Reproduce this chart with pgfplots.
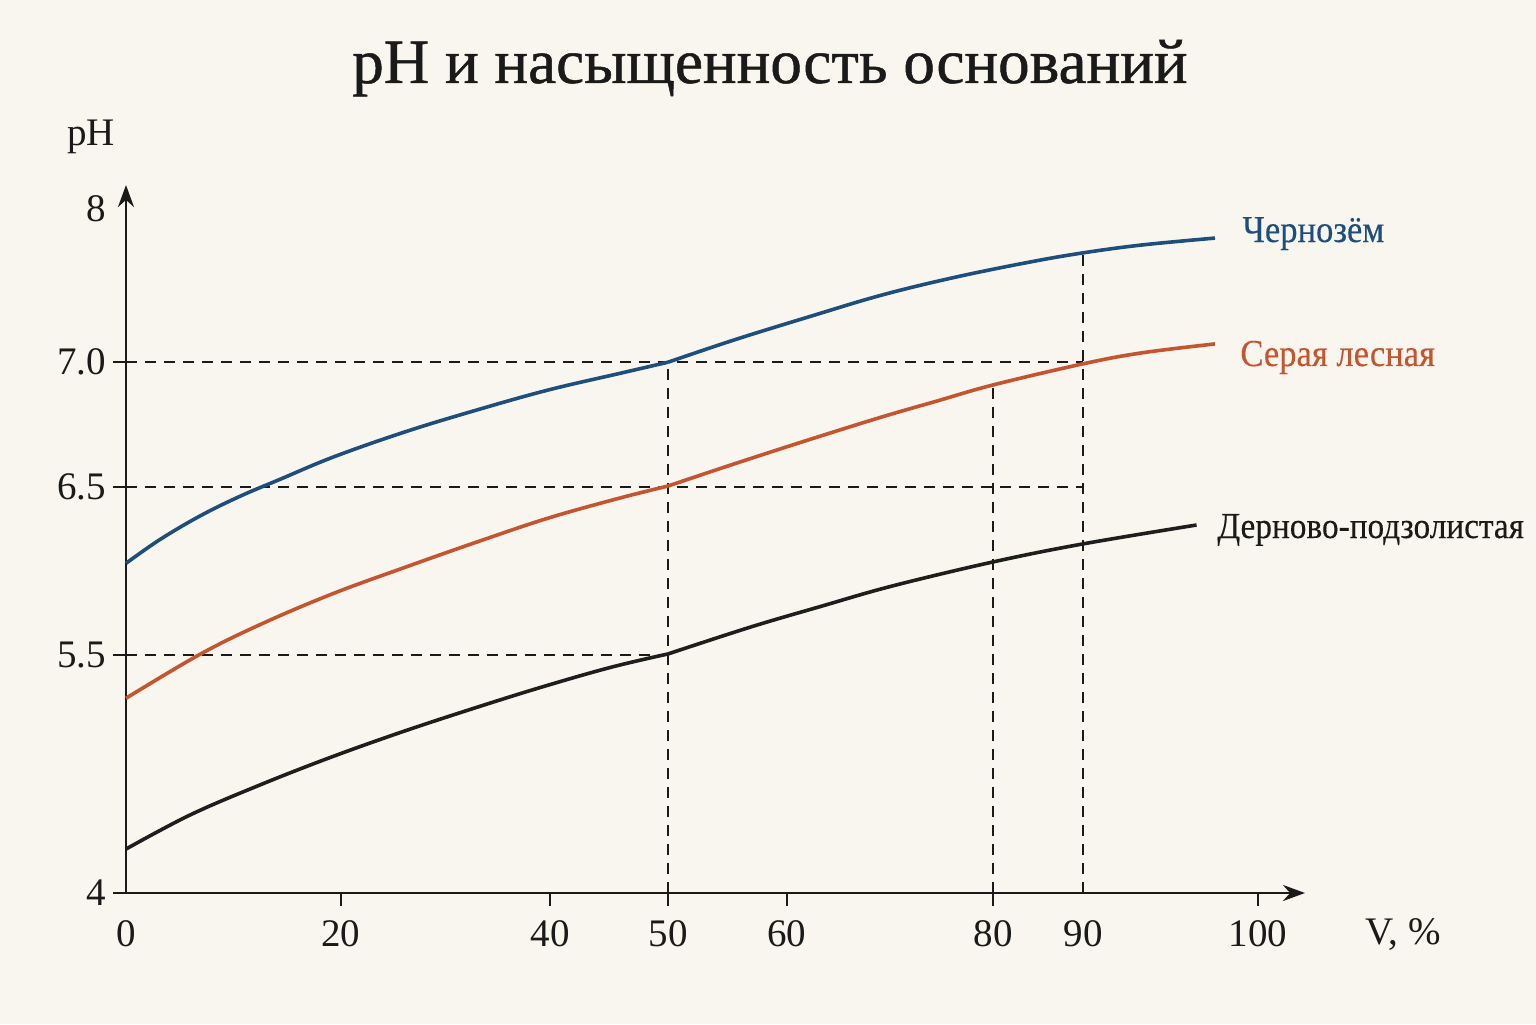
\documentclass[border=0pt]{standalone}
\usepackage{fontspec}
\setmainfont{Liberation Serif}
\newfontfamily\titlefont[FakeBold=0.8]{Liberation Serif}
\newfontfamily\labelfont[FakeStretch=0.91,FakeBold=0.3]{Liberation Serif}
\usepackage{pgfplots}
\pgfplotsset{compat=1.18}
\usetikzlibrary{arrows.meta}
\definecolor{bg}{HTML}{F9F6EF}
\definecolor{cblue}{HTML}{1D4E7C}
\definecolor{cred}{HTML}{C4552F}
\definecolor{cblack}{HTML}{1E1E1E}
\definecolor{txt}{HTML}{1A1A1A}
% x: position along the drawn V axis (0 = origin, 100 = tick "100")
% y: position along the drawn pH axis (4 = origin, 8 = tick "8")
\pgfplotstableread{
x y
0.00 5.928
3.00 6.067
6.54 6.205
10.07 6.320
13.60 6.419
18.37 6.551
24.71 6.698
31.01 6.825
37.33 6.942
43.64 7.039
47.88 7.104
}\chernA
\pgfplotstableread{
x y
47.88 7.104
53.71 7.234
60.25 7.368
66.78 7.497
73.32 7.602
79.86 7.690
84.50 7.743
89.66 7.789
96.20 7.830
}\chernB
\pgfplotstableread{
x y
0.00 5.139
6.54 5.396
12.09 5.577
18.37 5.753
24.71 5.906
31.01 6.053
37.33 6.193
43.64 6.310
47.88 6.380
}\grayA
\pgfplotstableread{
x y
47.88 6.380
53.71 6.509
60.25 6.649
66.78 6.784
71.64 6.877
76.59 6.971
84.50 7.094
89.66 7.158
96.20 7.211
}\grayB
\pgfplotstableread{
x y
0.00 4.257
5.65 4.456
11.84 4.632
18.02 4.792
24.29 4.940
30.48 5.075
36.66 5.203
42.84 5.320
47.88 5.398
}\sodA
\pgfplotstableread{
x y
47.88 5.398
55.21 5.556
61.48 5.678
67.67 5.795
76.59 5.936
84.50 6.041
94.57 6.152
}\sodB
\begin{document}
\begin{tikzpicture}
\fill[bg] (0,0) rectangle (768pt,512pt);
\useasboundingbox (0,0) rectangle (768pt,512pt);
\node[anchor=base, inner sep=0, text=txt, font=\titlefont\fontsize{31.5}{36}\selectfont] at (385pt,470.5pt) {pH и насыщенность оснований};
\begin{axis}[
  at={(63pt,65.5pt)}, anchor=south west,
  x=5.66pt, y=85.5pt,
  xmin=0, xmax=104.15, ymin=4, ymax=8.14,
  enlargelimits=false, clip=false,
  axis lines=left,
  axis line style={line width=1.25pt, draw=txt, -{Stealth[length=11pt,width=8pt]}},
  tick align=outside, major tick length=6.5pt,
  every tick/.style={line width=1.1pt, draw=txt},
  xtick={18.99,37.46,47.88,58.39,76.59,100},
  xticklabels={20,40,50,60,80,100},
  extra x ticks={0,84.54}, extra x tick labels={0,90},
  extra x tick style={major tick style={draw=none}},
  ytick={4,5.392,6.374,7.105}, yticklabels={4,5.5,6.5,7.0},
  extra y ticks={8}, extra y tick labels={8},
  extra y tick style={major tick style={draw=none}},
  tick label style={font=\fontsize{19.5}{22}\selectfont, text=txt},
  xticklabel style={yshift=-3.5pt},
  guide/.style={line width=1pt, draw=txt, dash pattern=on 5.5pt off 4pt},
  curve/.style={line width=1.8pt, smooth, tension=0.6},
]
\addplot[guide] coordinates {(0,7.105) (84.54,7.105)};
\addplot[guide] coordinates {(0,6.374) (84.54,6.374)};
\addplot[guide] coordinates {(0,5.392) (47.88,5.392)};
\addplot[guide] coordinates {(47.88,4) (47.88,7.105)};
\addplot[guide] coordinates {(76.59,4) (76.59,6.971)};
\addplot[guide] coordinates {(84.54,4) (84.54,7.743)};
\addplot[cblue, curve] table {\chernA};
\addplot[cblue, curve] table {\chernB};
\addplot[cred, curve] table {\grayA};
\addplot[cred, curve] table {\grayB};
\addplot[cblack, curve] table {\sodA};
\addplot[cblack, curve] table {\sodB};
\node[anchor=base west, inner sep=0, text=cblue, font=\labelfont\fontsize{19}{22}\selectfont] at (axis cs:98.59,7.807) {Чернозём};
\node[anchor=base west, inner sep=0, text=cred, font=\labelfont\fontsize{19}{22}\selectfont] at (axis cs:98.41,7.082) {Серая лесная};
\node[anchor=base west, inner sep=0, text=txt, font=\labelfont\fontsize{18.3}{22}\selectfont] at (axis cs:96.38,6.076) {Дерново-подзолистая};
\node[anchor=base west, inner sep=0, text=txt, font=\fontsize{19.5}{22}\selectfont] at (axis cs:109.45,3.696) {V, \%};
\node[anchor=base west, inner sep=0, text=txt, font=\fontsize{19.5}{22}\selectfont] at (axis cs:-5.21,8.374) {pH};
\end{axis}
\end{tikzpicture}
\end{document}
